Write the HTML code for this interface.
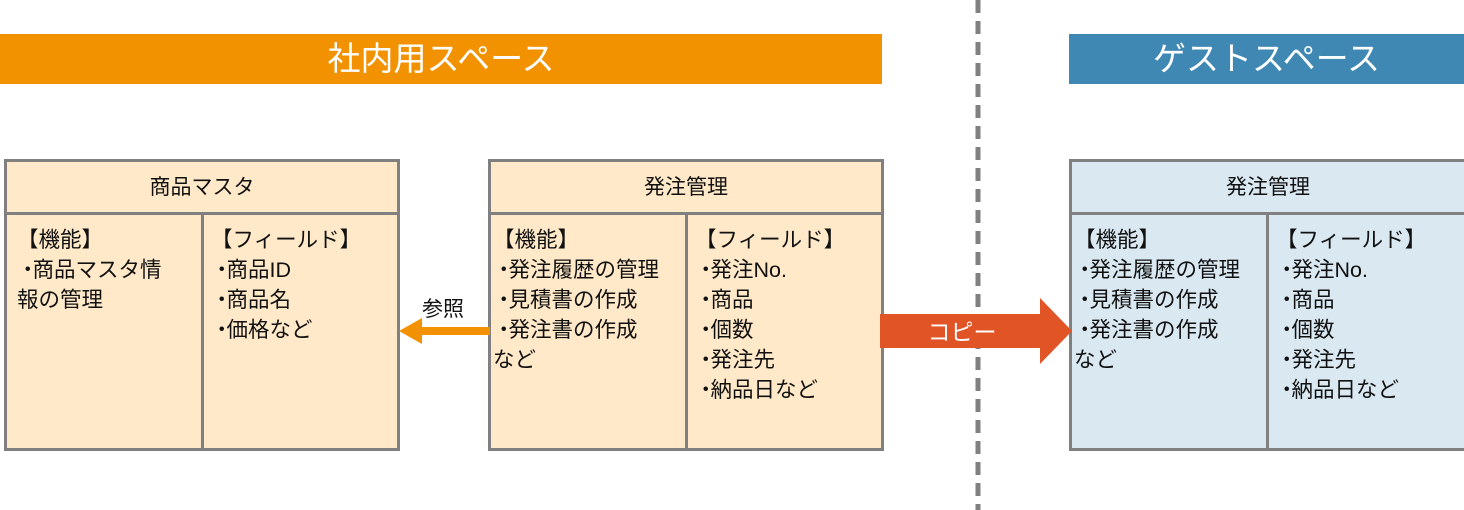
<!DOCTYPE html>
<html><head><meta charset="utf-8"><style>
body{margin:0;width:1464px;height:510px;background:#fff;position:relative;overflow:hidden;font-family:"Liberation Sans","Noto Sans CJK JP",sans-serif;color:#111}
.ban{position:absolute;top:34px;height:50px;color:#fff;font-size:33px;line-height:50px;text-align:center}
.box{position:absolute;top:159px;height:286px;border:3px solid #808080;box-sizing:content-box}
.hd{position:absolute;left:0;right:0;top:0;height:50px;border-bottom:3px solid #808080;text-align:center;line-height:52px;font-size:21px}
.dv{position:absolute;top:53px;bottom:0;width:3px;background:#808080}
.tx{position:absolute;top:63px;font-size:21.5px;line-height:30px;white-space:pre}
.b{letter-spacing:-6px}
</style></head><body>
<div class="ban" style="left:0;width:882px;background:#F39200">社内用スペース</div>
<div class="ban" style="left:1069px;width:395px;background:#3F88B4">ゲストスペース</div>
<svg style="position:absolute;left:0;top:0" width="1464" height="510">
<line x1="978" y1="0" x2="978" y2="510" stroke="#808080" stroke-width="5" stroke-dasharray="13,8"/>
</svg>
<div class="box" style="left:4px;width:390px;background:#FFE9C9">
<div class="hd">商品マスタ</div><div class="dv" style="left:194px"></div>
<div class="tx" style="left:10px">【機能】
<span class="b">・</span>商品マスタ情
報の管理</div>
<div class="tx" style="left:204px">【フィールド】
<span class="b">・</span>商品ID
<span class="b">・</span>商品名
<span class="b">・</span>価格など</div></div>
<div class="box" style="left:488px;width:390px;background:#FFE9C9">
<div class="hd">発注管理</div><div class="dv" style="left:194px"></div>
<div class="tx" style="left:2px">【機能】
<span class="b">・</span>発注履歴の管理
<span class="b">・</span>見積書の作成
<span class="b">・</span>発注書の作成
など</div>
<div class="tx" style="left:204px">【フィールド】
<span class="b">・</span>発注No.
<span class="b">・</span>商品
<span class="b">・</span>個数
<span class="b">・</span>発注先
<span class="b">・</span>納品日など</div></div>
<div class="box" style="left:1069px;width:392px;background:#D9E8F1">
<div class="hd">発注管理</div><div class="dv" style="left:194px"></div>
<div class="tx" style="left:2px">【機能】
<span class="b">・</span>発注履歴の管理
<span class="b">・</span>見積書の作成
<span class="b">・</span>発注書の作成
など</div>
<div class="tx" style="left:204px">【フィールド】
<span class="b">・</span>発注No.
<span class="b">・</span>商品
<span class="b">・</span>個数
<span class="b">・</span>発注先
<span class="b">・</span>納品日など</div></div>
<svg style="position:absolute;left:0;top:0" width="1464" height="510">
<polygon points="399,331 422,318 422,327 490,327 490,335 422,335 422,344" fill="#F39200"/>
<polygon points="880,314 1040,314 1040,298 1072,331 1040,364 1040,348 880,348" fill="#E05426"/>
<text x="962" y="340" fill="#fff" font-size="23" text-anchor="middle" font-family="Liberation Sans,Noto Sans CJK JP,sans-serif">コピー</text>
<text x="443" y="316" fill="#111" font-size="21" text-anchor="middle" font-family="Liberation Sans,Noto Sans CJK JP,sans-serif">参照</text>
</svg>
</body></html>
